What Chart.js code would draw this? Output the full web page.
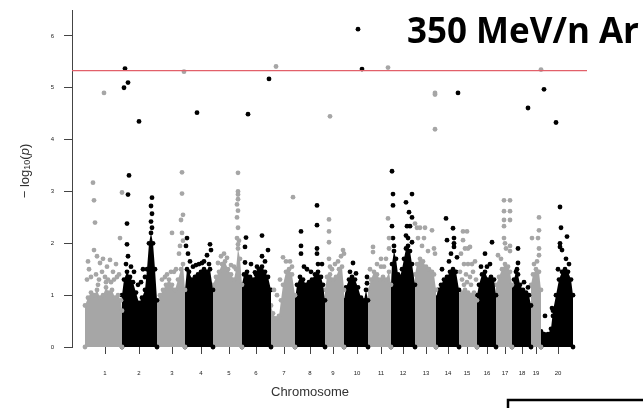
<!DOCTYPE html>
<html><head><meta charset="utf-8">
<script src="https://cdn.jsdelivr.net/npm/chart.js@4.4.0/dist/chart.umd.min.js"></script>
<style>html,body{margin:0;padding:0;background:#fff;overflow:hidden}#wrap{position:relative;width:643px;height:408px}</style>
</head><body><div id="wrap"><canvas id="c" width="643" height="408"></canvas></div>
<script>
// ---- data (x = cumulative genome position, arbitrary units; y = -log10(p)) ----
const chromosomes = ['1','2','3','4','5','6','7','8','9','10','11','12','13','14','15','16','17','18','19','20'];
const chromStart = [13, 50, 85, 113, 141, 170, 199, 223, 253, 272, 296, 319, 343, 364, 387, 405, 424, 440, 459, 469];
const chromEnd   = [50, 85, 113, 141, 170, 199, 223, 253, 272, 296, 319, 343, 364, 387, 405, 424, 440, 459, 469, 501];
const chromTickPos = [33, 67, 100, 129, 157, 184, 212, 238, 261, 285, 309, 331, 354, 376, 395, 415, 433, 450, 464, 486];
const yTicks = [0, 1, 2, 3, 4, 5, 6];
const genomeMin = 0, genomeMax = 515;
const significanceLine = 5.33;
const headline = '350 MeV/n Ar';
const xTitle = 'Chromosome';

// dense SNP cloud upper profile per chromosome [position, -log10 p]
const chr1Core = [[13,0.8],[16,0.95],[19,1.05],[22,1.0],[25,1.1],[28,0.95],[31,1.0],[34,1.15],[37,1.05],[40,1.1],[43,0.95],[46,1.0],[49,0.9],[50,0.7]];
const chr2Core = [[50,1.0],[52,1.3],[55,1.45],[58,1.35],[61,1.25],[64,1.05],[67,0.85],[70,0.95],[73,1.1],[75,1.5],[77,2.0],[79,2.2],[81,2.0],[83,1.5],[85,0.9]];
const chr3Core = [[85,0.9],[88,1.0],[91,1.1],[94,1.2],[97,1.3],[100,1.2],[103,1.1],[106,1.3],[109,1.5],[111,1.6],[113,1.1]];
const chr4Core = [[113,1.1],[115,1.5],[117,1.45],[120,1.3],[123,1.35],[126,1.4],[129,1.45],[132,1.5],[135,1.45],[138,1.5],[141,1.1]];
const chr5Core = [[141,1.2],[144,1.35],[147,1.45],[150,1.6],[153,1.65],[156,1.5],[159,1.4],[162,1.3],[164,1.5],[166,1.9],[168,1.7],[170,1.2]];
const chr6Core = [[170,1.2],[172,1.4],[175,1.45],[178,1.35],[181,1.3],[184,1.4],[187,1.5],[190,1.55],[193,1.45],[196,1.35],[199,1.1]];
const chr7Core = [[199,0.8],[201,0.65],[204,0.55],[207,0.6],[209,0.9],[211,1.2],[214,1.45],[217,1.5],[220,1.4],[223,1.0]];
const chr8Core = [[223,0.9],[225,1.2],[228,1.35],[231,1.3],[234,1.2],[237,1.25],[240,1.3],[243,1.4],[246,1.45],[249,1.35],[251,1.2],[253,0.9]];
const chr9Core = [[253,1.1],[255,1.35],[258,1.4],[261,1.3],[264,1.35],[267,1.5],[270,1.55],[272,1.1]];
const chr10Core = [[272,0.9],[274,1.15],[277,1.3],[280,1.35],[283,1.3],[286,1.15],[289,0.95],[292,0.9],[294,1.1],[296,0.9]];
const chr11Core = [[296,1.1],[299,1.3],[302,1.45],[305,1.4],[308,1.3],[311,1.35],[314,1.3],[317,1.45],[319,1.2]];
const chr12Core = [[319,1.2],[320,1.6],[322,1.85],[324,1.7],[326,1.4],[328,1.35],[330,1.5],[332,1.7],[334,1.9],[336,1.95],[338,1.85],[340,1.6],[343,1.2]];
const chr13Core = [[343,1.4],[345,1.6],[348,1.7],[351,1.65],[354,1.55],[357,1.5],[360,1.45],[362,1.4],[364,1.1]];
const chr14Core = [[364,0.95],[366,1.1],[369,1.2],[372,1.3],[375,1.35],[378,1.45],[381,1.5],[384,1.45],[387,1.1]];
const chr15Core = [[387,1.0],[390,1.05],[393,1.1],[396,1.05],[399,1.0],[402,1.05],[405,0.9]];
const chr16Core = [[405,1.0],[407,1.2],[410,1.4],[413,1.45],[416,1.3],[419,1.35],[422,1.3],[424,1.0]];
const chr17Core = [[424,1.2],[427,1.35],[430,1.5],[433,1.6],[436,1.55],[438,1.45],[440,1.2]];
const chr18Core = [[440,1.1],[442,1.3],[444,1.45],[446,1.4],[448,1.2],[451,1.1],[454,1.05],[457,1.0],[459,0.8]];
const chr19Core = [[459,1.2],[461,1.4],[464,1.5],[467,1.45],[469,1.1]];
const chr20Core = [[469,0.3],[472,0.25],[476,0.25],[479,0.35],[481,0.7],[484,1.0],[487,1.3],[490,1.45],[493,1.5],[496,1.45],[499,1.3],[501,1.0]];

// individual SNPs standing above the dense cloud [position, -log10 p]
const chr1Snps = [[21,3.17],[22,2.83],[23,2.4],[32,4.9],[22,1.87],[50,2.98],[48,2.1],[25,1.75],[28,1.62],[31,1.7],[35,1.55],[38,1.68],[41,1.45],[44,1.6],[17,1.5],[15,1.3],[19,1.35],[24,1.4],[27,1.3],[30,1.45],[33,1.35],[36,1.3],[39,1.25],[42,1.3],[45,1.35],[47,1.4],[16,1.65],[26,1.2],[34,1.25]];
const chr2Snps = [[53,5.37],[56,5.1],[52,5.0],[67,4.35],[57,3.31],[56,2.94],[55,2.38],[55,1.98],[56,1.75],[54,1.6],[80,2.88],[79,2.72],[80,2.57],[79,2.42],[80,2.3],[71,1.5],[73,1.35],[66,1.2],[62,1.45],[59,1.55],[69,1.25]];
const chr3Snps = [[110,3.37],[110,2.96],[111,2.55],[109,2.45],[112,5.31],[100,2.2],[110,2.2],[111,2.05],[108,1.95],[107,1.8],[104,1.5],[99,1.45],[95,1.4],[90,1.3],[102,1.45],[93,1.35]];
const chr4Snps = [[125,4.52],[115,2.1],[114,1.95],[116,1.8],[138,1.98],[139,1.87],[135,1.77],[132,1.65],[137,1.6],[127,1.6],[121,1.55],[118,1.65],[130,1.62],[124,1.58]];
const chr5Snps = [[166,3.36],[166,3.0],[166,2.94],[166,2.85],[165,2.75],[166,2.63],[165,2.5],[166,2.3],[165,2.1],[167,2.05],[166,1.98],[149,1.75],[152,1.8],[155,1.72],[146,1.62],[159,1.58],[162,1.55]];
const chr6Snps = [[176,4.49],[197,5.17],[174,2.11],[173,1.93],[190,2.15],[196,1.87],[190,1.75],[173,1.63],[183,1.44],[187,1.44],[179,1.6],[193,1.65],[185,1.55]];
const chr7Snps = [[204,5.41],[221,2.89],[211,1.73],[214,1.65],[218,1.65],[220,1.55],[208,1.3],[205,1.0],[202,1.1]];
const chr8Snps = [[229,2.23],[229,1.95],[229,1.8],[245,2.73],[245,2.35],[245,1.9],[245,1.8],[246,1.6],[235,1.5],[239,1.45],[250,1.6],[232,1.55]];
const chr9Snps = [[258,4.45],[257,2.46],[257,2.23],[257,2.02],[257,1.7],[258,1.55],[271,1.87],[272,1.8],[269,1.75],[263,1.6],[266,1.65],[260,1.5]];
const chr10Snps = [[286,6.13],[290,5.36],[281,1.62],[295,1.35],[295,1.23],[278,1.45],[284,1.42]];
const chr11Snps = [[316,5.39],[301,1.93],[301,1.83],[309,1.7],[309,1.55],[316,2.48],[317,2.1],[317,1.9],[314,1.7],[305,1.6],[312,1.55],[298,1.5]];
const chr12Snps = [[320,3.39],[321,2.95],[321,2.73],[320,2.33],[321,2.1],[322,1.95],[334,2.79],[340,2.95],[337,2.6],[340,2.5],[335,2.33],[338,2.33],[334,2.15],[336,2.1],[340,2.02]];
const chr13Snps = [[363,4.9],[363,4.87],[363,4.2],[343,2.38],[345,2.3],[348,2.3],[353,2.3],[346,2.1],[352,2.1],[360,2.25],[362,1.9],[363,1.8],[356,1.85],[350,1.95]];
const chr14Snps = [[386,4.9],[374,2.48],[375,2.06],[381,2.29],[382,2.1],[382,2.0],[382,1.93],[385,1.73],[370,1.5],[377,1.65],[379,1.8]];
const chr15Snps = [[391,2.23],[395,2.23],[391,2.06],[393,1.9],[396,1.9],[398,1.93],[389,1.8],[392,1.6],[396,1.6],[400,1.6],[403,1.65],[388,1.45],[394,1.4],[398,1.35],[401,1.45],[390,1.3],[395,1.25],[404,1.3],[392,1.2],[399,1.2]];
const chr16Snps = [[413,1.8],[420,2.02],[418,1.6],[409,1.55],[415,1.55]];
const chr17Snps = [[432,2.83],[438,2.83],[432,2.62],[438,2.62],[432,2.45],[438,2.45],[432,2.33],[432,2.1],[433,2.0],[434,1.9],[438,1.95],[438,1.85],[426,1.77],[429,1.7]];
const chr18Snps = [[456,4.61],[446,1.9],[446,1.62],[445,1.5],[456,1.15],[452,1.25]];
const chr19Snps = [[469,5.35],[467,2.5],[467,2.25],[466,2.1],[460,2.1],[467,1.9],[467,1.77],[465,1.65],[462,1.6]];
const chr20Snps = [[472,4.97],[484,4.33],[488,2.7],[489,2.3],[495,2.13],[488,2.0],[488,1.93],[490,1.87],[494,1.7],[497,1.6],[473,0.6],[480,0.75],[481,0.6],[486,1.5]];

const coreProfiles = [chr1Core,chr2Core,chr3Core,chr4Core,chr5Core,chr6Core,chr7Core,chr8Core,chr9Core,chr10Core,chr11Core,chr12Core,chr13Core,chr14Core,chr15Core,chr16Core,chr17Core,chr18Core,chr19Core,chr20Core];
const snpLists = [chr1Snps,chr2Snps,chr3Snps,chr4Snps,chr5Snps,chr6Snps,chr7Snps,chr8Snps,chr9Snps,chr10Snps,chr11Snps,chr12Snps,chr13Snps,chr14Snps,chr15Snps,chr16Snps,chr17Snps,chr18Snps,chr19Snps,chr20Snps];

// ---- styles ----
const GREY = '#a6a6a6', BLACK = '#000000', RED = '#e2606a', AXIS = '#444444';
const FONT = '"Liberation Sans", Arial, Helvetica, sans-serif';
const R = 2.4;

const datasets = [];
datasets.push({type:'line', data:[{x:genomeMin,y:significanceLine},{x:genomeMax,y:significanceLine}],
  borderColor:RED, borderWidth:1.4, pointRadius:0, fill:false, order:0, clip:false});
for (let i = 0; i < chromosomes.length; i++) {
  const col = i % 2 === 0 ? GREY : BLACK;
  datasets.push({type:'scatter', data: snpLists[i].map(([x,y]) => ({x,y})),
    backgroundColor: col, borderWidth: 0, pointRadius: R, order: 1, clip:false});
  const core = [{x:chromStart[i], y:0}, ...coreProfiles[i].map(([x,y]) => ({x,y})), {x:chromEnd[i], y:0}];
  datasets.push({type:'line', data: core, backgroundColor: col, borderColor: col, borderWidth: 0,
    showLine: true, pointRadius: R, pointBackgroundColor: col, pointBorderWidth: 0,
    fill: 'origin', tension: 0, order: 2, clip:false});
}

const extras = {
  id: 'extras',
  afterDraw(chart) {
    const ctx = chart.ctx;
    ctx.save();
    // headline
    ctx.fillStyle = '#000';
    ctx.font = 'bold 35px "Open Sans", ' + FONT;
    ctx.textAlign = 'left'; ctx.textBaseline = 'alphabetic';
    const w = ctx.measureText(headline).width;
    ctx.save(); ctx.translate(407, 43); ctx.scale(232 / w, 1); ctx.fillText(headline, 0, 0); ctx.restore();
    // x title
    ctx.fillStyle = '#333';
    ctx.font = '13px ' + FONT;
    ctx.textAlign = 'center'; ctx.textBaseline = 'middle';
    ctx.fillText(xTitle, 310, 392);
    // y title: −log10(p)
    const parts = [
      {t:'\u2212', f:'13px ' + FONT, dy:0},
      {t:' log', f:'13px ' + FONT, dy:0},
      {t:'10', f:'9px ' + FONT, dy:3},
      {t:'(', f:'13px ' + FONT, dy:0},
      {t:'p', f:'italic 13px ' + FONT, dy:0},
      {t:')', f:'13px ' + FONT, dy:0}
    ];
    let total = 0;
    parts.forEach(p => { ctx.font = p.f; p.w = ctx.measureText(p.t).width; total += p.w; });
    ctx.translate(25, 171); ctx.rotate(-Math.PI / 2);
    ctx.textAlign = 'left';
    let cx = -total / 2;
    parts.forEach(p => { ctx.font = p.f; ctx.fillText(p.t, cx, p.dy); cx += p.w; });
    ctx.restore();
    // framed caption box at the bottom right
    ctx.save();
    ctx.lineWidth = 2.5; ctx.strokeStyle = '#000';
    ctx.strokeRect(508, 400, 200, 40);
    ctx.restore();
  }
};

new Chart(document.getElementById('c'), {
  data: { datasets },
  options: {
    responsive: false, devicePixelRatio: 1, animation: false, events: [],
    layout: { autoPadding: false, padding: { top: 10, right: 56, left: 0, bottom: 0 } },
    plugins: { legend: { display: false }, tooltip: { enabled: false }, title: { display: false } },
    scales: {
      x: {
        type: 'linear', min: genomeMin, max: genomeMax,
        border: { display: false },
        grid: { display: true, drawOnChartArea: false, drawTicks: true, tickLength: 7, color: AXIS, lineWidth: 1 },
        ticks: { autoSkip: false, maxRotation: 0, font: { family: FONT, size: 6 }, color: '#222', padding: 16,
          callback: (v, i) => chromosomes[i] },
        afterBuildTicks: s => { s.ticks = chromTickPos.map(v => ({ value: v })); },
        afterFit: s => { s.height = 61; }
      },
      y: {
        type: 'linear', min: 0, max: 6.5,
        border: { display: true, color: AXIS, width: 1 },
        grid: { display: true, drawOnChartArea: false, drawTicks: true, tickLength: 8, color: AXIS },
        ticks: { font: { family: FONT, size: 6 }, color: '#222', padding: 10 },
        afterBuildTicks: s => { s.ticks = yTicks.map(v => ({ value: v })); },
        afterFit: s => { s.width = 72; s.paddingTop = 0; s.paddingBottom = 0; }
      }
    }
  },
  plugins: [extras]
});
</script></body></html>
